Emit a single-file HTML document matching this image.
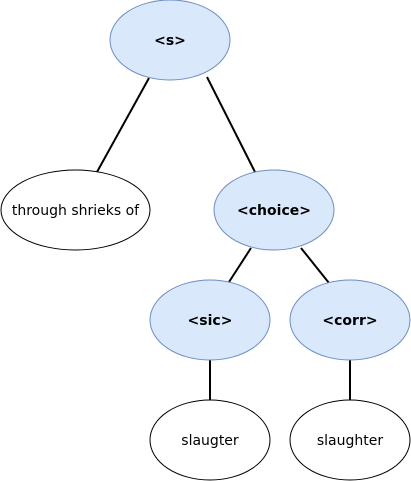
<!DOCTYPE html>
<html><head><style>html,body{margin:0;padding:0;background:#fff;}</style></head>
<body>
<svg width="411" height="481" viewBox="0 0 411 481" xmlns="http://www.w3.org/2000/svg" style="display:block">
<g stroke="#000" stroke-width="2" fill="none">
<line x1="149" y1="78" x2="97" y2="172"/>
<line x1="207" y1="77" x2="255" y2="172"/>
<line x1="251" y1="248" x2="229" y2="282"/>
<line x1="301" y1="248" x2="329" y2="283"/>
<line x1="210" y1="360" x2="210" y2="400"/>
<line x1="350" y1="360" x2="350" y2="400"/>
</g>
<g fill="#dae8fc" stroke="#6c8ebf" stroke-width="1">
<ellipse cx="170" cy="40" rx="60" ry="40"/>
<ellipse cx="274" cy="210" rx="60" ry="40"/>
<ellipse cx="210" cy="320" rx="60" ry="40"/>
<ellipse cx="350" cy="320" rx="60" ry="40"/>
</g>
<g fill="#fff" stroke="#000" stroke-width="1">
<ellipse cx="75.5" cy="210" rx="74.5" ry="40"/>
<ellipse cx="210" cy="440" rx="60" ry="40"/>
<ellipse cx="350" cy="440" rx="60" ry="40"/>
</g>
<g font-family="DejaVu Sans, Verdana, sans-serif" font-size="14" text-anchor="middle" fill="#000">
<text x="170" y="45" font-weight="bold">&lt;s&gt;</text>
<text x="274" y="215" font-weight="bold">&lt;choice&gt;</text>
<text x="210" y="325" font-weight="bold">&lt;sic&gt;</text>
<text x="350" y="325" font-weight="bold">&lt;corr&gt;</text>
<text x="75.5" y="215">through shrieks of</text>
<text x="210" y="445">slaugter</text>
<text x="350" y="445">slaughter</text>
</g>
</svg>
</body></html>
